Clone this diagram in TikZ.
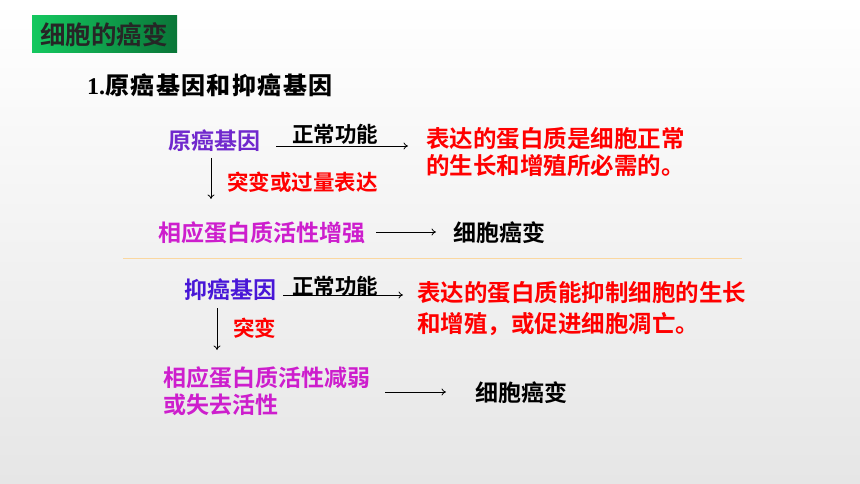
\documentclass[tikz,border=0pt]{standalone}
\usepackage{fontspec}
\setmainfont{Liberation Serif}
\newfontfamily\cjkb{Noto Sans CJK SC}[UprightFont=* Bold]
\usetikzlibrary{arrows.meta}
\definecolor{tgreenL}{RGB}{20,200,95}
\definecolor{tgreenR}{RGB}{10,118,56}
\definecolor{proto}{RGB}{112,40,205}
\definecolor{supp}{RGB}{72,22,215}
\definecolor{redtxt}{RGB}{255,0,0}
\definecolor{magtxt}{RGB}{205,30,205}
\definecolor{sepline}{RGB}{250,215,160}
\definecolor{bgbot}{RGB}{230,230,230}
\begin{document}
\begin{tikzpicture}[x=1pt,y=-1pt,
  txt/.style={inner sep=0pt,anchor=base west},
  big/.style={txt,font=\cjkb\fontsize{23}{27}\selectfont},
  lbl/.style={txt,font=\cjkb\fontsize{21.5}{26}\selectfont},
  arr/.style={line width=0.8pt,-{To[length=4.5pt,width=7pt]}}]
\useasboundingbox (0,0) rectangle (860,484);
\shade[top color=white,bottom color=bgbot,shading angle=0] (0,0) rectangle (860,484);
% title
\shade[left color=tgreenL,right color=tgreenR] (32,16) rectangle (177,53);
\node[txt,font=\cjkb\fontsize{25.5}{30}\selectfont,text=black!85] (title) at (40,44.5) {细胞的癌变};
% heading
\node[txt,font=\fontsize{24}{28}\selectfont\bfseries] (head) at (87,95) {1.{\cjkb\addfontfeature{LetterSpace=6}原癌基因和抑癌基因}};
% proto-oncogene block
\node[big,text=proto] (yuan) at (168,150) {原癌基因};
\node[lbl] (norm1) at (292,142.7) {正常功能};
\node[txt,font=\cjkb\fontsize{23.5}{27}\selectfont,text=redtxt,align=left] (red1) at (426,175) {表达的蛋白质是细胞正常\\的生长和增殖所必需的。};
\coordinate (a1s) at (276,146);
\coordinate (a1e) at (408,146);
\draw[arr] (a1s) -- (a1e);
\coordinate (d1s) at (211,158);
\coordinate (d1e) at (211,199);
\draw[arr] (d1s) -- (d1e);
\node[lbl,text=redtxt] (mut1) at (227,191) {突变或过量表达};
\node[big,text=magtxt] (incr) at (158,241.7) {相应蛋白质活性增强};
\node[big] (canc1) at (453,241) {细胞癌变};
\coordinate (b1s) at (376,232);
\coordinate (b1e) at (436,232);
\draw[arr] (b1s) -- (b1e);
% separator
\draw[sepline,line width=1pt] (123,258) -- (742,258);
% tumor suppressor block
\node[big,text=supp] (yi) at (184,298.7) {抑癌基因};
\node[lbl] (norm2) at (292,294) {正常功能};
\node[txt,font=\cjkb\fontsize{23.5}{31}\selectfont,text=redtxt,align=left] (red2) at (417,332) {表达的蛋白质能抑制细胞的生长\\和增殖，或促进细胞凋亡。};
\coordinate (a2s) at (283,295);
\coordinate (a2e) at (403,295);
\draw[arr] (a2s) -- (a2e);
\coordinate (d2s) at (217,308);
\coordinate (d2e) at (217,350);
\draw[arr] (d2s) -- (d2e);
\node[lbl,text=redtxt] (mut2) at (233,336) {突变};
\node[big,text=magtxt,align=left] (decr) at (163,413.7) {相应蛋白质活性减弱\\或失去活性};
\node[big] (canc2) at (475,401.7) {细胞癌变};
\coordinate (b2s) at (385,392);
\coordinate (b2e) at (446,392);
\draw[arr] (b2s) -- (b2e);
\end{tikzpicture}
\end{document}
